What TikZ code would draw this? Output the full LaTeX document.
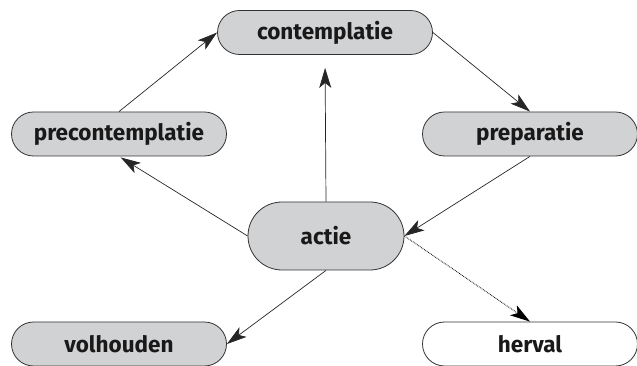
\documentclass[tikz,border=0pt]{standalone}
\usepackage{fontspec}
\setmainfont{Fira Sans}
\usepackage{tikz}
\usetikzlibrary{shapes.misc}
\usetikzlibrary{arrows.meta}

\definecolor{stagegray}{RGB}{209,210,212}

\tikzset{
    stage/.style={rounded rectangle, draw=black!80, line width=0.8pt, fill=stagegray,
        minimum width=215pt, minimum height=44pt, inner sep=0pt,
        font=\fontsize{22.5}{26}\selectfont\bfseries, text=black!90},
    flow/.style={-{Stealth[length=20pt, width=12pt, inset=5pt]}, line width=0.7pt, black!85},
}

\begin{document}
\begin{tikzpicture}[x=1pt, y=1pt]
    \useasboundingbox (0,0) rectangle (637,366);

    % stages of change
    \node[stage] (contemplatie) at (325,333.5) {contemplatie};
    \node[stage] (precontemplatie) at (119,232) {precontemplatie};
    \node[stage] (preparatie) at (530,232) {preparatie};
    \node[stage, minimum width=156pt, minimum height=68pt] (actie) at (326,130) {actie};
    \node[stage] (volhouden) at (119,22) {volhouden};
    \node[stage, fill=white] (herval) at (530,22) {herval};

    % the cycle
    \draw[flow] (precontemplatie.north) -- (contemplatie.west);
    \draw[flow] (contemplatie.east) -- (preparatie.north);
    \draw[flow] (preparatie.south) -- (actie.east);
    \draw[flow, shorten >=13pt] (actie.north) -- (contemplatie.south);
    \draw[flow, shorten >=2pt] (actie.west) -- (precontemplatie.south);
    \draw[flow] (actie.south) -- (volhouden.east);

    % relapse
    \draw[flow, densely dotted, line width=0.9pt, black] (actie.east) -- (herval.north);
\end{tikzpicture}
\end{document}
